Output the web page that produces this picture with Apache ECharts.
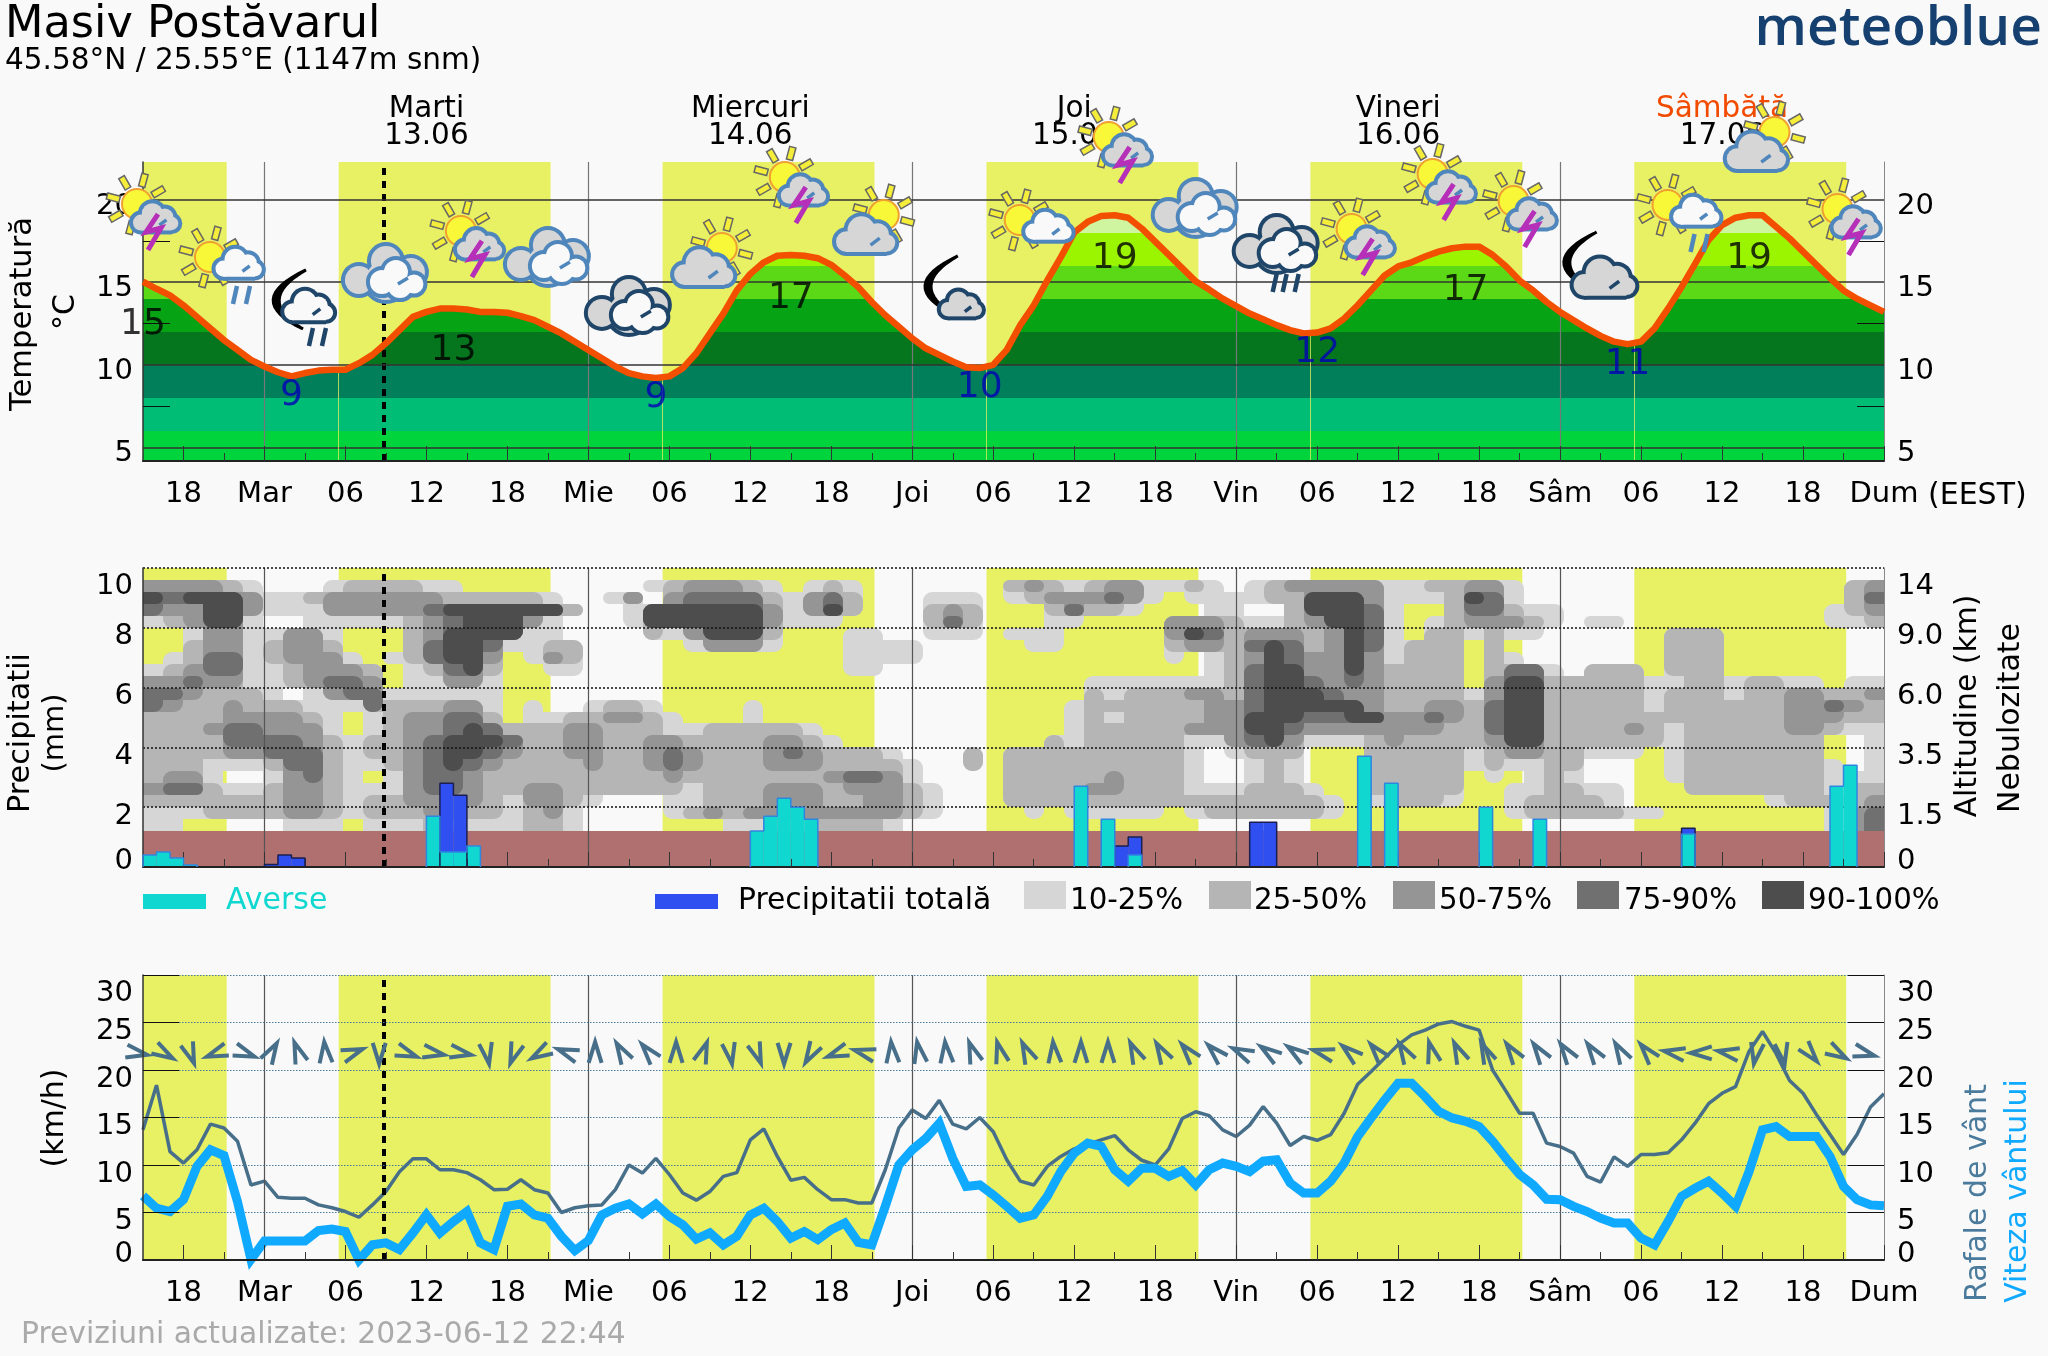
<!DOCTYPE html>
<html><head><meta charset="utf-8">
<script src="https://cdn.jsdelivr.net/npm/echarts@6/dist/echarts.min.js"></script>
<style>html,body{margin:0;padding:0;background:#f9f9f9}#c{width:2048px;height:1356px}</style>
</head><body><div id="c"></div>
<script>
const FONT='"DejaVu Sans"';
// hourly series start at hour -9 (15:00 Monday); hour 0 = Tuesday 00:00
const firstHour=-9;
const temperature=[15.03,14.6,14.2,13.6,12.9,12.2,11.5,10.9,10.3,
9.9,9.55,9.3,9.5,9.65,9.7,9.7,10.1,10.6,11.3,
12.1,12.9,13.2,13.4,13.4,13.35,13.2,13.2,13.15,12.95,
12.7,12.3,11.9,11.4,10.9,10.4,9.9,9.5,9.3,9.2,
9.3,9.8,10.7,11.9,13.1,14.5,15.5,16.2,16.6,16.65,
16.6,16.45,16.05,15.4,14.7,13.8,13.0,12.3,11.6,11.0,
10.6,10.2,9.85,9.8,10.0,10.9,12.4,13.6,15.1,16.5,
18.0,18.65,19.0,19.05,18.9,18.25,17.45,16.65,15.85,15.05,
14.55,14.0,13.55,13.1,12.75,12.4,12.1,11.9,11.95,12.2,
12.8,13.6,14.5,15.4,15.95,16.2,16.55,16.85,17.05,17.15,
17.15,16.65,15.95,15.1,14.5,13.8,13.2,12.7,12.2,11.75,
11.4,11.25,11.4,12.2,13.4,14.7,16.1,17.55,18.45,18.9,
19.05,19.05,18.35,17.65,16.85,16.05,15.25,14.5,14.0,13.6,13.2];
const gusts=[13.7,18.4,11.4,10.2,11.6,14.3,13.9,12.5,7.9,
8.3,6.6,6.5,6.5,5.8,5.5,5.1,4.5,5.8,7.2,
9.3,10.65,10.65,9.5,9.5,9.2,8.45,7.4,7.45,8.45,
7.4,7.05,5.0,5.5,5.7,5.8,7.4,10.0,9.15,10.7,
9.0,7.05,6.3,7.2,8.8,9.2,12.65,13.8,10.9,8.4,
8.7,7.4,6.35,6.35,6.0,6.0,9.5,13.9,15.8,14.9,
16.8,14.3,13.8,15.0,13.5,10.55,8.3,7.9,9.85,10.9,
11.7,12.2,12.65,13.1,11.6,10.5,10.0,11.7,14.9,15.6,
15.2,13.7,13.0,14.2,16.15,14.4,12.05,13.0,12.6,13.2,
15.45,18.5,19.85,21.25,22.65,23.7,24.2,24.85,25.1,24.6,
24.2,20.0,17.75,15.45,15.45,12.3,11.95,11.25,8.8,8.2,
10.85,9.85,11.1,11.1,11.3,12.65,14.4,16.45,17.55,18.25,
21.95,24.05,21.75,18.9,17.55,15.3,13.2,11.1,13.2,16.1,17.5];
const windSpeed=[6.75,5.45,5.1,6.35,9.85,11.6,11.0,6.15,0.05,
2.0,2,2,2,3.1,3.25,3.0,0,1.6,1.8,
1.1,2.85,4.75,2.85,4.05,5.1,1.8,1.1,5.65,5.9,
4.75,4.4,2.5,1.0,2.05,4.75,5.45,5.9,4.85,5.9,
4.6,3.7,2.2,2.85,1.6,2.5,4.75,5.45,4.05,2.3,
3.0,2.15,3.2,3.9,1.85,1.6,5.65,10.0,11.6,12.8,
14.4,10.7,7.75,7.9,6.85,5.65,4.4,4.75,6.7,9.3,
11.25,12.3,11.95,9.5,8.3,9.65,9.65,8.8,9.4,7.9,
9.5,10.2,9.85,9.3,10.4,10.55,8.1,7.05,7.05,8.3,
10.2,13.0,14.95,16.85,18.6,18.6,17.2,15.65,14.95,14.6,
14.05,12.5,10.7,9.0,7.9,6.4,6.35,5.65,5.1,4.4,
3.9,3.9,2.3,1.6,4.05,6.7,7.55,8.3,7.05,5.65,
9.3,13.7,14.05,13.0,13.0,13.0,10.9,7.75,6.35,5.8,5.7];
// wind-arrow heading in degrees (0 = tip right, 90 = tip up), one every two hours
const windDir=[-10,-30,-70,200,-20,60,110,95,20,-90,-20,-10,-10,-80,250,210,160,90,120,130,90,70,-80,-70,-90,-120,200,165,95,100,95,110,105,
115,95,90,90,115,120,130,135,155,145,145,165,140,130,120,105,115,115,125,125,125,125,120,130,170,180,170,-100,-80,-50,-30,-15];
const convHours=[-9,-8,-7,-6,12,13,14,15,36,37,38,39,40,60,62,64,81,83,90,94,105,116,117];
const convRain=[.4,.5,.3,.07,1.7,.5,.5,.7,1.2,1.7,2.3,2.0,1.6,2.7,1.6,.4,3.7,2.8,2.0,1.6,1.1,2.7,3.4];
const totalHours=[0,1,2,13,14,63,64,73,74,105];
const totalRain=[.08,.4,.3,2.8,2.4,.7,1.0,1.5,1.5,1.3];
const dayBands=[[-9,-2.8],[5.5,21.2],[29.5,45.2],[53.5,69.2],[77.5,93.2],[101.5,117.2]];
const sunriseHours=[5.5,29.5,53.5,77.5,101.5];
const sunriseTemp=[9.7,9.3,9.9,12,11.3];
const midnights=[0,24,48,72,96];
const nowHour=8.83;
const tickHours=[-6,0,6,12,18,24,30,36,42,48,54,60,66,72,78,84,90,96,102,108,114,120];
const tickNames=['18','Mar','06','12','18','Mie','06','12','18','Joi','06','12','18','Vin','06','12','18','Sâm','06','12','18','Dum'];
const shortTicks=[-3,3,9,15,21,27,33,39,45,51,57,63,69,75,81,87,93,99,105,111,117];
const dayLabelHours=[12,36,60,84,108];
const dayNames=['Marti','Miercuri','Joi','Vineri','Sâmbătă'];
const dayDates=['13.06','14.06','15.06','16.06','17.06'];
const tempTicks=[5,10,15,20];
const tempMinor=[7.5,12.5,17.5];
const precipTicks=[0,2,4,6,8,10];
const altitudeNames=['0','1.5','3.5','6.0','9.0','14'];
const windTicks=[0,5,10,15,20,25,30];
const tempBandEdges=[4,6,8,10,12,14,16,18,23];
const tempBandColors=['#00d43c','#00bd75','#007f5a','#05751e','#06a315','#5cd916','#9cf500','#cff5a0'];
const labelHours=[-9,14,39,63,89,110,2,29,53,78,101];
const labelY=[12.59,11.02,14.16,16.58,14.65,16.58,8.29,8.17,8.78,10.9,10.17];
const labelText=['15','13','17','19','17','19','9','9','10','12','11'];
const labelIsMin=[0,0,0,0,0,0,1,1,1,1,1];
const iconHours=[-9,-3,3,9,15,21,27,33,39,45,51,57,63,69,75,81,87,93,99,105,111,117];
const iconKinds=['storm','sunrain','moonrain','clouds','storm','clouds','cloudsdark','sungray','storm','sungray','moonsmall','sunwhite','storm','clouds','cloudsrain','storm','storm','storm','moonbig','sunrain','sungray','storm'];
const iconY=[19.97,16.52,13.44,15.61,18.34,16.58,13.62,17.07,21.6,19.06,13.56,18.76,24.02,19.55,17.37,18.46,21.78,20.15,15.43,19.67,24.08,19.67];
const cloudColors=[null,'#d6d6d6','#b5b5b5','#959595','#707070','#4d4d4d'];
const cloudNames=['10-25%','25-50%','50-75%','75-90%','90-100%'];
// cloud cover class per cell: 22 rows from the top (10 mm) down, 87 columns across the time range
const cloudRows=[
'000000000000000000000000000000000000000000000000000000000000000000000000000000000000000',
'33332100012222110000000001'+'23332101210000000232123311'+'210123333311223310'+'00000000000000023',
'54555311233333322222100130'.slice(0,26)+'34444213420001110123334310'+'111122555311125410'+'00000000000000024',
'43355311133333455555520015'+'55555313520002320002422100'+'011002555410024421'+'10000000000000123',
'12355100111112345553100015'+'55555311100002420001100003'+'332112355410123332'+'10110000000000112',
'00133113310002355551100002'+'13555200011001110111000003'+'542333235410221211'+'00000022200000000',
'00233123320002455411220000'+'01333100011110000011000002'+'332454235412220200'+'00000022200000000',
'01244123331012455301320000'+'00000000011110000000000001'+'012354335312220210'+'00000022200000000',
'12344112333201245200110000'+'00000000011000000000000000'+'012455335322220244'+'10222022200000000',
'33433112344301133100000000'+'00000000000000000000011111'+'112455434322220355'+'22222112212211011',
'44322210134411111100000000'+'00000000000000000000021222'+'332455543322221355'+'22222122212233223',
'43223222111422233101001221'+'00001000000000000000122222'+'233455555322332455'+'22222122222233432',
'22223333210123344201122332'+'10001000000000000000121222'+'233555445533432455'+'22222222222233322',
'22234433310123345422233222'+'11222221000000000000122222'+'333554333333322455'+'22223212222233211',
'22224444321223455542233223'+'32222332100000000002122222'+'113453111232222355'+'22222212222222001',
'22223344421223455432233223'+'43222343222100020222222222'+'101222000222221233'+'22111012222222001',
'22211124421123454322223223'+'43222333222210020222222222'+'100121000222221211'+'22000012222222101',
'23310013421013443222222222'+'32222222344310000222223222'+'100121000222220101'+'21000012222222111',
'34421123321113443223322222'+'21222333233321000222233222'+'111222100222220011'+'22110002222222122',
'22222223321223333213321000'+'11222333223321000222222222'+'222222210122210012'+'22210000000122223',
'11122223321222332212310000'+'12323333333321000010111110'+'122222210000000012'+'22221100000000134',
'11000001110111221112210000'+'00011222222100000000000000'+'000000000000000000'+'00000000000000134'
];

const hours=temperature.map((_,i)=>firstHour+i);
const xy=(arr)=>arr.map((v,i)=>[hours[i],v]);
const GL=143,GW=1741;
const grids=[{left:GL,width:GW,top:162,height:299},{left:GL,width:GW,top:568,height:299},{left:GL,width:GW,top:975,height:285}];

function xAxisA(grid,withLabels){return {type:'value',gridIndex:grid,min:firstHour,max:120,position:'bottom',z:6,
  axisLine:{show:true,onZero:false,lineStyle:{color:'#222',width:2}},
  axisTick:{show:true,inside:true,length:15,customValues:tickHours,lineStyle:{color:'#333',width:1}},
  splitLine:{show:false},
  axisLabel:{show:withLabels,customValues:tickHours,fontFamily:FONT,fontSize:29,color:'#000',margin:19,showMaxLabel:true,showMinLabel:true,hideOverlap:false,
    formatter:v=>tickNames[tickHours.indexOf(v)]||''}};}
function xAxisB(grid){return {type:'value',gridIndex:grid,min:firstHour,max:120,position:'bottom',z:6,
  axisLine:{show:false,onZero:false},axisLabel:{show:false},splitLine:{show:false},
  axisTick:{show:true,inside:true,length:8,customValues:shortTicks,lineStyle:{color:'#333',width:1}}};}
function yAxis(grid,pos,min,max,labelVals,tickVals,tickLen,fmt,rich,margin,lineColor){return {type:'value',gridIndex:grid,position:pos,min,max,z:6,
  axisLine:{show:true,onZero:false,lineStyle:{color:lineColor,width:pos==='left'?1.5:1}},
  splitLine:{show:false},
  axisTick:{show:tickLen>0,inside:true,length:tickLen,customValues:tickVals,lineStyle:{color:'#111',width:1}},
  axisLabel:{customValues:labelVals,margin,showMinLabel:true,showMaxLabel:true,hideOverlap:false,fontFamily:FONT,fontSize:29,color:'#000',formatter:fmt,rich}};}
const rN=p=>({fontFamily:FONT,fontSize:29,color:'#000',padding:p});
const edgeRich={n:rN([18,0,0,0]),t:rN([36,0,0,0]),b:rN([0,0,12,0])};
const edgeFmt=(top,bot,txt)=>v=>{const s=txt?txt(v):String(v);return v===top?`{t|${s}}`:v===bot?`{b|${s}}`:`{n|${s}}`;};
const tempFmt=v=>`{n|${v}}`;
const tempRich={n:rN([13,0,0,0])};

const xAxes=[xAxisA(0,true),xAxisB(0),
 {type:'value',gridIndex:0,min:firstHour,max:120,position:'top',axisLine:{show:false,onZero:false},axisTick:{show:false},splitLine:{show:false},
  axisLabel:{customValues:dayLabelHours,margin:12,hideOverlap:false,lineHeight:27,fontFamily:FONT,fontSize:29,color:'#000',
   formatter:v=>{const i=dayLabelHours.indexOf(v);return (dayNames[i]==='Sâmbătă'?`{o|${dayNames[i]}}`:`{k|${dayNames[i]}}`)+`\n{k|${dayDates[i]}}`;},
   rich:{k:{fontFamily:FONT,fontSize:29.5,color:'#000',lineHeight:27},o:{fontFamily:FONT,fontSize:29.5,color:'#f24b00',lineHeight:27}}}},
 xAxisA(1,false),xAxisB(1),xAxisA(2,true),xAxisB(2)];
const yAxes=[
 yAxis(0,'left',4.18,22.27,tempTicks,tempMinor,27,tempFmt,tempRich,10,'#333'),
 yAxis(0,'right',4.18,22.27,tempTicks,tempMinor,27,tempFmt,tempRich,13,'#888'),
 yAxis(1,'left',0,10,precipTicks,[],0,edgeFmt(10,0),edgeRich,10,'#333'),
 yAxis(1,'right',0,10,precipTicks,[],0,edgeFmt(10,0,v=>altitudeNames[precipTicks.indexOf(v)]),edgeRich,13,'#888'),
 yAxis(2,'left',0,30,windTicks,windTicks.slice(1),36,edgeFmt(30,0),edgeRich,10,'#333'),
 yAxis(2,'right',0,30,windTicks,windTicks.slice(1),36,edgeFmt(30,0),edgeRich,13,'#888')];

const X=[0,3,5],Y=[0,2,4];
function helper(p,z,extra){return Object.assign({type:'line',xAxisIndex:X[p],yAxisIndex:Y[p],data:[],z,silent:true,animation:false,symbol:'none'},extra);}
const series=[];
grids.forEach((g,p)=>{
  series.push(helper(p,1,{markArea:{silent:true,itemStyle:{color:'#e8f064'},data:dayBands.map(b=>[{xAxis:b[0]},{xAxis:b[1]}])}}));
  series.push(helper(p,5,{markLine:{silent:true,symbol:'none',animation:false,label:{show:false},lineStyle:{color:p===0?'#777':'#555',width:1.2,type:'solid'},data:midnights.map(h=>({xAxis:h}))}}));
  series.push(helper(p,7,{markLine:{silent:true,symbol:'none',animation:false,label:{show:false},lineStyle:{color:'#000',width:4,type:[7,6]},data:[{xAxis:nowHour}]}}));
});
// temperature panel
const bandPieces=tempBandColors.map((c,i)=>({min:tempBandEdges[i],max:tempBandEdges[i+1],color:c}));
const areaIndex=series.length;
series.push({type:'line',name:'tempArea',xAxisIndex:0,yAxisIndex:0,data:xy(temperature),symbol:'none',z:2,silent:true,animation:false,lineStyle:{width:0},areaStyle:{opacity:1}});
series.push(helper(0,3,{markLine:{silent:true,symbol:'none',animation:false,label:{show:false},lineStyle:{color:'#333',width:1.5,type:'solid'},data:tempTicks.map(v=>({yAxis:v}))}}));
series.push(helper(0,3,{markLine:{silent:true,symbol:'none',animation:false,label:{show:false},lineStyle:{color:'#e8f064',width:1,type:'solid',opacity:.75},data:sunriseHours.map((h,i)=>[{xAxis:h,yAxis:4.18},{xAxis:h,yAxis:sunriseTemp[i]}])}}));
series.push({type:'line',name:'Temperatura',xAxisIndex:0,yAxisIndex:0,data:xy(temperature),symbol:'none',z:6,silent:true,animation:false,lineStyle:{color:'#f24f00',width:6.5,join:'round'}});
series.push({type:'scatter',xAxisIndex:0,yAxisIndex:0,z:8,silent:true,animation:false,symbolSize:0,clip:false,
  data:labelHours.map((h,i)=>({value:[h,labelY[i]],label:{show:true,position:'inside',offset:[0,3],formatter:labelText[i],fontFamily:FONT,fontSize:36,color:labelIsMin[i]?'#0000b8':'#000'}}))});
series.push({type:'custom',xAxisIndex:0,yAxisIndex:0,z:20,silent:true,animation:false,clip:false,
  data:iconHours.map((h,i)=>[h,iconY[i],i]),renderItem:(params,api)=>{const p=api.coord([api.value(0),api.value(1)]);return drawIcon(iconKinds[api.value(2)],p[0],p[1]);}});
// clouds: one cell per class layer, lightest layer first, so the classes nest like contours.
// A cell corner is softened only where both its neighbours fall below that layer.
const cloudCells=[];
const lvl=(r,c)=>(cloudRows[r]&&cloudRows[r][c]!==undefined)?+cloudRows[r][c]:-1;
for(let L=1;L<=5;L++){cloudRows.forEach((row,r)=>{for(let c=0;c<row.length;c++){if(+row[c]>=L){
  const off=(rr,cc)=>{const v=lvl(rr,cc);return v>=0&&v<L;};
  const u=off(r-1,c),d=off(r+1,c),le=off(r,c-1),ri=off(r,c+1);
  cloudCells.push([c,r,L,u&&le?1:0,u&&ri?1:0,d&&ri?1:0,d&&le?1:0]);}}});}
const cellH=129/87,cellV=0.4,cellR=9;
series.push({type:'custom',xAxisIndex:3,yAxisIndex:2,z:2,silent:true,animation:false,clip:true,data:cloudCells,
  renderItem:(params,api)=>{const c=api.value(0),r=api.value(1),l=api.value(2);
    const a=api.coord([firstHour+c*cellH,10-r*cellV]),b=api.coord([firstHour+(c+1)*cellH,10-(r+1)*cellV]);
    const x=Math.round(a[0]),y=Math.round(a[1]);
    return {type:'rect',shape:{x,y,width:Math.round(b[0])-x,height:Math.round(b[1])-y,r:[api.value(3)*cellR,api.value(4)*cellR,api.value(5)*cellR,api.value(6)*cellR]},style:{fill:cloudColors[l]}};}});
series.push(helper(1,3,{markArea:{silent:true,itemStyle:{color:'#b07070'},data:[[{yAxis:0},{yAxis:1.205}]]}}));
series.push(helper(1,4,{markLine:{silent:true,symbol:'none',animation:false,label:{show:false},lineStyle:{color:'#111',width:1.5,type:[2,2]},data:precipTicks.slice(1).map(v=>({yAxis:v}))}}));
series.push({type:'bar',name:'Precipitatii totală',xAxisIndex:3,yAxisIndex:2,z:5,silent:true,animation:false,barWidth:13.5,barGap:'-100%',
  data:totalHours.map((h,i)=>[h+.5,totalRain[i]]),itemStyle:{color:'#2f4ff0'}});
series.push({type:'bar',name:'Averse',xAxisIndex:3,yAxisIndex:2,z:5,silent:true,animation:false,barWidth:13.5,barGap:'-100%',
  data:convHours.map((h,i)=>[h+.5,convRain[i]]),itemStyle:{color:'#10d8d0'}});
// step outline around each run of bars, taken from the same bar values
function outline(hrs,vals){const pts=[];hrs.forEach((h,i)=>{if(i===0||hrs[i-1]!==h-1)  {if(i)pts.push([null,null]);pts.push([h,0]);}
   pts.push([h,vals[i]],[h+1,vals[i]]);if(i===hrs.length-1||hrs[i+1]!==h+1)pts.push([h+1,0]);});return pts;}
series.push({type:'line',xAxisIndex:3,yAxisIndex:2,z:6,silent:true,animation:false,symbol:'none',connectNulls:false,data:outline(totalHours,totalRain),lineStyle:{color:'#1a1f50',width:1.5}});
series.push({type:'line',xAxisIndex:3,yAxisIndex:2,z:6,silent:true,animation:false,symbol:'none',connectNulls:false,data:outline(convHours,convRain),lineStyle:{color:'#2f86e0',width:1.5}});
// wind
series.push(helper(2,3,{markLine:{silent:true,symbol:'none',animation:false,label:{show:false},lineStyle:{color:'#4a7a9c',width:1,type:[1.5,1.5]},data:windTicks.slice(1).map(v=>({yAxis:v}))}}));
series.push({type:'line',name:'Rafale de vânt',xAxisIndex:5,yAxisIndex:4,data:xy(gusts),symbol:'none',z:4,silent:true,animation:false,clip:false,lineStyle:{color:'#476f8a',width:3.5}});
series.push({type:'line',name:'Viteza vântului',xAxisIndex:5,yAxisIndex:4,data:xy(windSpeed),symbol:'none',z:5,silent:true,animation:false,clip:false,lineStyle:{color:'#0fa9ff',width:9,join:'miter'}});
series.push({type:'custom',xAxisIndex:5,yAxisIndex:4,z:6,silent:true,animation:false,clip:false,
  data:windDir.map((d,i)=>[-9.5+2*i,21.8,d]),renderItem:(params,api)=>{
    const p=api.coord([api.value(0),api.value(1)]);const a=api.value(2)*Math.PI/180;
    const dx=Math.cos(a),dy=-Math.sin(a),nx=-dy,ny=dx;
    return {type:'polyline',shape:{points:[[p[0]-dx*10+nx*6.5,p[1]-dy*10+ny*6.5],[p[0]+dx*11,p[1]+dy*11],[p[0]-dx*10-nx*6.5,p[1]-dy*10-ny*6.5]]},style:{fill:'none',stroke:'#476f8a',lineWidth:4,lineJoin:'miter'}};}});

// ---- weather icons (shape parts only; placement comes from the axes) ----
const BLUE='#4f86bb',DARK='#1f4569',GRAY='#d6d6d6',WHITE='#f9f9f9';
const C=(cx,cy,r,fill)=>({type:'circle',shape:{cx,cy,r},style:{fill}});
function cloudParts(cx,cy,s,fill,stroke){
  const pts=[[-16,4,9],[-3,-6,12],[11,-2,10],[19,5,7.5]];const w=4;const out=[];
  pts.forEach(q=>out.push(C(cx+q[0]*s,cy+q[1]*s,q[2]*s+w,stroke)));
  out.push({type:'rect',shape:{x:cx-16*s,y:cy+2*s,width:35*s,height:11*s+w},style:{fill:stroke}});
  pts.forEach(q=>out.push(C(cx+q[0]*s,cy+q[1]*s,q[2]*s,fill)));
  out.push({type:'rect',shape:{x:cx-16*s,y:cy+2*s,width:35*s,height:11*s},style:{fill}});
  out.push({type:'polyline',shape:{points:[[cx+5*s,cy+7*s],[cx+13*s,cy+1*s]]},style:{fill:'none',stroke,lineWidth:3.5}});
  return out;
}
function sunParts(x,y){
  const out=[];[75,120,165,210,255,30,-15,300].forEach(d=>{const a=d*Math.PI/180,c=Math.cos(a),s=-Math.sin(a),n=[-s,c];
    const i=18,o=31,w=3.2;
    out.push({type:'polygon',shape:{points:[[x+c*i+n[0]*w,y+s*i+n[1]*w],[x+c*o+n[0]*w,y+s*o+n[1]*w],[x+c*o-n[0]*w,y+s*o-n[1]*w],[x+c*i-n[0]*w,y+s*i-n[1]*w]]},style:{fill:'#f4ee3a',stroke:'#666',lineWidth:1.5}});});
  out.push({type:'circle',shape:{cx:x,cy:y,r:15},style:{fill:'#f8f838',stroke:'#f0a030',lineWidth:2}});
  return out;
}
function rainParts(x,y,dxs,color){return dxs.map(d=>({type:'polyline',shape:{points:[[x+d+2,y-9],[x+d-2,y+9]]},style:{fill:'none',stroke:color,lineWidth:4.5}}));}
function moonParts(x,y,s){
  const t=[x-2*s,y-38*s],b=[x-5*s,y+21*s],co=[x-66*s,y-8*s],ci=[x-54*s,y-8*s];const pts=[];
  for(let i=0;i<=16;i++){const u=i/16,v=1-u;pts.push([v*v*t[0]+2*u*v*co[0]+u*u*b[0],v*v*t[1]+2*u*v*co[1]+u*u*b[1]]);}
  for(let i=16;i>=0;i--){const u=i/16,v=1-u;pts.push([v*v*t[0]+2*u*v*ci[0]+u*u*b[0],v*v*t[1]+2*u*v*ci[1]+u*u*b[1]]);}
  return [{type:'polygon',shape:{points:pts},style:{fill:'#000',stroke:'#000',lineWidth:3}}];
}
function cloudsParts(x,y,stroke){
  const out=[];const back=[[-27,8,14],[0,-11,15],[25,0,14],[0,8,20]];
  back.forEach(q=>out.push(C(x+q[0],y+q[1],q[2]+4,stroke)));
  back.forEach(q=>out.push(C(x+q[0],y+q[1],q[2],GRAY)));
  const f=[[-4,10,12],[10,0,12],[28,12,9.5],[14,14,12]];
  f.forEach(q=>out.push(C(x+q[0],y+q[1],q[2]+4,stroke)));
  f.forEach(q=>out.push(C(x+q[0],y+q[1],q[2],WHITE)));
  out.push({type:'polyline',shape:{points:[[x+12,y+12],[x+22,y+6]]},style:{fill:'none',stroke,lineWidth:3.5}});
  return out;
}
function drawIcon(kind,x,y){
  let ch=[];
  if(kind==='storm'){const sx=x-6;ch=ch.concat(sunParts(sx,y+4),cloudParts(sx+18,y+19,.88,GRAY,BLUE));
    ch.push({type:'polyline',shape:{points:[[sx+21,y+17-3],[sx+9,y+17+15],[sx+24,y+17+11],[sx+11,y+17+33]]},style:{fill:'none',stroke:'#b62fb8',lineWidth:5}});}
  else if(kind==='sunrain'||kind==='sunwhite'){const sx=x-14;ch=ch.concat(sunParts(sx,y),cloudParts(sx+28,y+8,.9,WHITE,BLUE));
    if(kind==='sunrain')ch=ch.concat(rainParts(sx+28,y+38,[-3,10],BLUE));}
  else if(kind==='sungray'){const sx=x+12;ch=ch.concat(sunParts(sx,y),cloudParts(sx-19,y+22,1.15,GRAY,BLUE));}
  else if(kind==='clouds'){ch=cloudsParts(x,y,BLUE);}
  else if(kind==='cloudsdark'){ch=cloudsParts(x,y,DARK);}
  else if(kind==='cloudsrain'){ch=cloudsParts(x,y,DARK).concat(rainParts(x,y+40,[-2,8,20],DARK));}
  else if(kind==='moonrain'){ch=ch.concat(moonParts(x+3,y,1),cloudParts(x+3,y,.95,WHITE,DARK),rainParts(x+3,y+29,[3,16],DARK));}
  else if(kind==='moonsmall'){ch=ch.concat(moonParts(x+7,y-12,1),cloudParts(x+8,y,.8,GRAY,DARK));}
  else if(kind==='moonbig'){ch=ch.concat(moonParts(x-2,y-5,1),cloudParts(x+3,y+5,1.2,GRAY,DARK));}
  return {type:'group',children:ch};
}

// ---- text and legend ----
const T=(text,x,y,size,color,align,rot,weight,family)=>({type:'text',x,y,rotation:rot||0,z:30,silent:true,
  style:{text,fill:color||'#000',font:`${weight||'normal'} ${size}px ${family||FONT}`,textAlign:align||'left',textVerticalAlign:'middle',align:align||'left',verticalAlign:'middle'}});
const R=(x,y,w,h,fill)=>({type:'rect',z:30,silent:true,shape:{x,y,width:w,height:h},style:{fill}});
const ROT=Math.PI/2;
const legendSwatchX=[1024,1209,1393,1577,1762];
const legendTextX=[1070,1254,1439,1624,1808];
const graphics=[
 T('Masiv Postăvarul',5,25,44.6),T('45.58°N / 25.55°E (1147m snm)',5,61,29.5),
 T('meteoblue',2042,29,55,'#15406f','right',0,'600','"Open Sans"'),
 T('Temperatură',23,314,30.5,'#000','center',ROT),T('°C',66,312,30,'#000','center',ROT),
 T('Precipitatii',21,733,30.3,'#000','center',ROT),T('(mm)',55,733,29,'#000','center',ROT),
 T('(km/h)',55,1118,30,'#000','center',ROT),
 T('Altitudine (km)',1968,706,29.8,'#000','center',ROT),T('Nebulozitate',2011,718,30,'#000','center',ROT),
 T('Rafale de vânt',1978,1193,30,'#4a7a9c','center',ROT),T('Viteza vântului',2018,1191,30,'#0fa9ff','center',ROT),
 T('(EEST)',1928,496,30),
 T('Previziuni actualizate: 2023-06-12 22:44',21,1335,29.8,'#aaaaaa'),
 R(143,894,63,15,'#10d8d0'),T('Averse',226,901,30,'#10d8d0'),
 R(655,894,63,15,'#2f4ff0'),T('Precipitatii totală',738,901,29.8)
];
legendSwatchX.forEach((x,i)=>{graphics.push(R(x,881,42,28,cloudColors[i+1]));graphics.push(T(cloudNames[i],legendTextX[i],901,29.3));});

const chart=echarts.init(document.getElementById('c'),null,{renderer:'canvas',width:2048,height:1356});
chart.setOption({backgroundColor:'#f9f9f9',animation:false,grid:grids,xAxis:xAxes,yAxis:yAxes,
  visualMap:[{type:'piecewise',show:false,seriesIndex:areaIndex,dimension:1,pieces:bandPieces}],
  graphic:{elements:graphics},series});
</script></body></html>
